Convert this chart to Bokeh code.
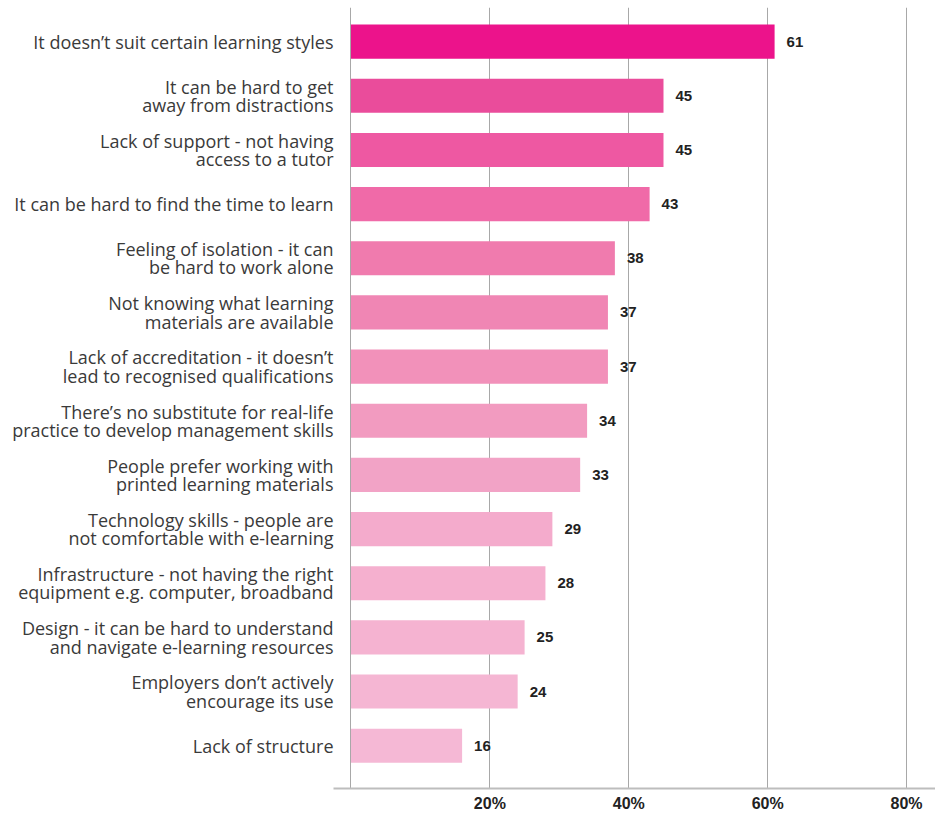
from bokeh.plotting import figure
from bokeh.models import Range1d, FixedTicker, ColumnDataSource
from bokeh.core.properties import value
from bokeh.embed import file_html
from bokeh.resources import INLINE

categories = [
    "It doesn\u2019t suit certain learning styles",
    "It can be hard to get\naway from distractions",
    "Lack of support - not having\naccess to a tutor",
    "It can be hard to find the time to learn",
    "Feeling of isolation - it can\nbe hard to work alone",
    "Not knowing what learning\nmaterials are available",
    "Lack of accreditation - it doesn\u2019t\nlead to recognised qualifications",
    "There\u2019s no substitute for real-life\npractice to develop management skills",
    "People prefer working with\nprinted learning materials",
    "Technology skills - people are\nnot comfortable with e-learning",
    "Infrastructure - not having the right\nequipment e.g. computer, broadband",
    "Design - it can be hard to understand\nand navigate e-learning resources",
    "Employers don\u2019t actively\nencourage its use",
    "Lack of structure",
]
values = [61, 45, 45, 43, 38, 37, 37, 34, 33, 29, 28, 25, 24, 16]
x_ticks = [20, 40, 60, 80]
x_tick_labels = ["20%", "40%", "60%", "80%"]

colors = ["#EC138B", "#EA4C9B", "#EE58A2", "#F06AA8", "#F07BAE", "#F086B4",
          "#F291BA", "#F29BC0", "#F2A3C6", "#F4ABCC", "#F5B0CF", "#F5B3D1",
          "#F5B6D3", "#F5B8D5"]

idx = list(range(len(categories)))
src = ColumnDataSource(dict(y=idx, v=values, c=colors, lbl=[str(v) for v in values]))

p = figure(width=935, height=814, output_backend="svg", toolbar_location=None,
           x_range=Range1d(-2.52, 84.17), y_range=Range1d(13.79, -0.63),
           min_border_left=333, min_border_right=0, min_border_top=7, min_border_bottom=26)
p.outline_line_color = None
p.background_fill_color = "white"

p.hbar(y="y", left=0, right="v", height=0.63, fill_color="c", line_color=None, source=src)
p.text(x="v", y="y", text="lbl", source=src, x_offset=12, text_align="left",
       text_baseline="middle", text_font_size="15px", text_font_style="bold",
       text_color="#222222", text_font=value("Liberation Sans"))

# x grid
p.xgrid.ticker = FixedTicker(ticks=[0] + x_ticks)
p.xgrid.grid_line_color = "#a8a8a8"
p.xgrid.grid_line_width = 1
p.ygrid.grid_line_color = None

xa = p.xaxis[0]
xa.ticker = FixedTicker(ticks=x_ticks)
xa.major_label_overrides = {t: l for t, l in zip(x_ticks, x_tick_labels)}
xa.major_tick_line_color = None
xa.major_tick_out = 0
xa.major_tick_in = 0
xa.minor_tick_line_color = None
xa.minor_tick_out = 0
xa.axis_line_color = "#bdbdbd"
xa.axis_line_width = 2
xa.major_label_text_font = "Liberation Sans"
xa.major_label_text_font_style = "bold"
xa.major_label_text_font_size = "16px"
xa.major_label_text_color = "#222222"
xa.major_label_standoff = 6

ya = p.yaxis[0]
ya.ticker = FixedTicker(ticks=idx)
ya.major_label_overrides = {i: c for i, c in zip(idx, categories)}
ya.axis_line_color = None
ya.major_tick_line_color = None
ya.major_tick_out = 0
ya.major_tick_in = 0
ya.minor_tick_line_color = None
ya.minor_tick_out = 0
ya.major_label_text_font = "Open Sans"
ya.major_label_text_font_size = "18px"
ya.major_label_text_color = "#3a3a3a"
ya.major_label_text_line_height = 0.76
ya.major_label_standoff = 0
ya.major_label_text_align = "right"

open("out.html", "w").write(file_html(p, INLINE))
